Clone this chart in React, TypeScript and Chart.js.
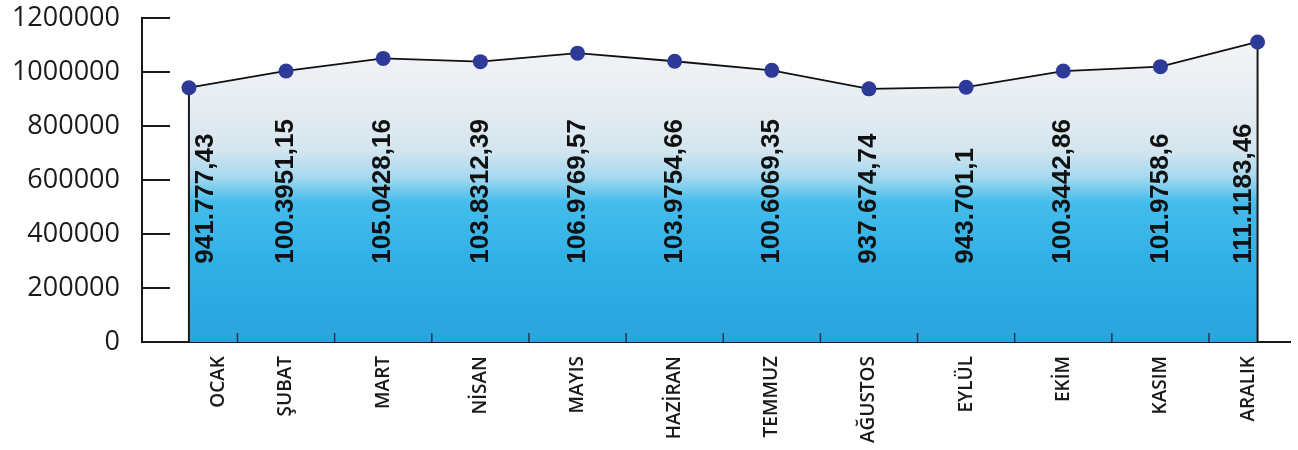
import React, { useEffect, useRef } from "react";
import { Chart, registerables } from "chart.js";

Chart.register(...registerables);

const months = ["OCAK", "ŞUBAT", "MART", "NİSAN", "MAYIS", "HAZİRAN", "TEMMUZ", "AĞUSTOS", "EYLÜL", "EKİM", "KASIM", "ARALIK"];
const values = [941777.43, 1003951.15, 1050428.16, 1038312.39, 1069769.57, 1039754.66, 1006069.35, 937674.74, 943701.1, 1003442.86, 1019758.6, 1111183.46];
const valueLabels = ["941.777,43", "100.3951,15", "105.0428,16", "103.8312,39", "106.9769,57", "103.9754,66", "100.6069,35", "937.674,74", "943.701,1", "100.3442,86", "101.9758,6", "111.1183,46"];
const yMax = 1200000;
const yStep = 200000;

const decor = {
  id: "decor",
  afterDatasetsDraw(chart: any) {
    const { ctx, chartArea, scales } = chart;
    const xs = scales.x;
    const ys = scales.y;
    const n = values.length;
    ctx.save();
    ctx.strokeStyle = "#1a1a1a";
    ctx.lineWidth = 2;
    // vertical edge lines of the filled area
    [0, n - 1].forEach((i) => {
      const px = xs.getPixelForValue(i);
      ctx.beginPath();
      ctx.moveTo(px, ys.getPixelForValue(values[i]) + 7);
      ctx.lineTo(px, chartArea.bottom);
      ctx.stroke();
    });
    // inner y tick marks
    for (let v = 0; v <= yMax; v += yStep) {
      const py = ys.getPixelForValue(v);
      ctx.beginPath();
      ctx.moveTo(chartArea.left, py);
      ctx.lineTo(chartArea.left + 28, py);
      ctx.stroke();
    }
    // x tick marks between months
    ctx.strokeStyle = "#2a3550";
    ctx.lineWidth = 1.5;
    for (let i = 0; i < n - 1; i++) {
      const px = xs.getPixelForValue(i + 0.5);
      ctx.beginPath();
      ctx.moveTo(px, chartArea.bottom - 9);
      ctx.lineTo(px, chartArea.bottom);
      ctx.stroke();
    }
    const firstPx = xs.getPixelForValue(0);
    const lastPx = xs.getPixelForValue(n - 1);
    // value labels
    ctx.fillStyle = "#111";
    ctx.font = "bold 26px 'Liberation Sans'";
    ctx.textAlign = "left";
    ctx.textBaseline = "middle";
    const baseY = ys.getPixelForValue(290000);
    for (let i = 0; i < n; i++) {
      let px = xs.getPixelForValue(i);
      px = Math.min(Math.max(px, firstPx + 17), lastPx - 14);
      ctx.save();
      ctx.translate(px, baseY);
      ctx.rotate(-Math.PI / 2);
      ctx.fillText(valueLabels[i], 0, 0);
      ctx.restore();
    }
    // month labels
    ctx.fillStyle = "#1a1a1a";
    ctx.font = "600 19px 'Open Sans'";
    ctx.textAlign = "right";
    for (let i = 0; i < n; i++) {
      let px = xs.getPixelForValue(i);
      px = Math.min(Math.max(px, firstPx + 30), lastPx - 9);
      ctx.save();
      ctx.translate(px, chartArea.bottom + 14);
      ctx.rotate(-Math.PI / 2);
      ctx.fillText(months[i], 0, 0);
      ctx.restore();
    }
    ctx.restore();
  },
};

export default function App() {
  const ref = useRef<HTMLCanvasElement | null>(null);
  useEffect(() => {
    if (!ref.current) return;
    const chart = new Chart(ref.current, {
      type: "line",
      data: {
        datasets: [
          {
            data: values.map((v, i) => ({ x: i, y: v })),
            borderColor: "#111",
            borderWidth: 1.8,
            tension: 0,
            pointRadius: 7.5,
            pointHoverRadius: 7.5,
            pointBackgroundColor: "#2e3a98",
            pointBorderColor: "#2e3a98",
            pointBorderWidth: 0,
            fill: "origin",
            backgroundColor: (c: any) => {
              const { chart } = c;
              const area = chart.chartArea;
              if (!area) return "#2fb0e6";
              const g = chart.ctx.createLinearGradient(0, area.top, 0, area.bottom);
              g.addColorStop(0, "#fbfcfd");
              g.addColorStop(0.1, "#f1f3f6");
              g.addColorStop(0.28, "#e5ecf1");
              g.addColorStop(0.41, "#d3e5ef");
              g.addColorStop(0.49, "#a6d9ef");
              g.addColorStop(0.57, "#44bcec");
              g.addColorStop(0.75, "#31b0e6");
              g.addColorStop(1, "#29a4dd");
              return g;
            },
          },
        ],
      },
      options: {
        animation: false,
        responsive: true,
        maintainAspectRatio: false,
        layout: { padding: { top: 0, right: 6, left: 0, bottom: 0 } },
        plugins: {
          legend: { display: false },
          tooltip: { enabled: false },
        },
        scales: {
          x: {
            type: "linear",
            min: -0.483,
            max: 11.339,
            grid: { display: false, drawTicks: false },
            ticks: { display: false },
            border: { display: true, color: "#1a1a1a", width: 2 },
            afterFit: (s: any) => {
              s.height = 108;
            },
          },
          y: {
            min: 0,
            max: yMax,
            ticks: {
              stepSize: yStep,
              padding: 22,
              color: "#1a1a1a",
              font: { family: "'Open Sans'", size: 27 },
              callback: (v: any) => String(v),
            },
            grid: { display: false, drawTicks: false },
            border: { display: true, color: "#1a1a1a", width: 2 },
            afterFit: (s: any) => {
              s.width = 142;
              s.paddingTop = 18;
              s.paddingBottom = 0;
            },
          },
        },
      },
      plugins: [decor],
    });
    return () => chart.destroy();
  }, []);
  return (
    <div style={{ position: "fixed", left: 0, top: 0, width: 1298, height: 450, background: "#fff" }}>
      <canvas ref={ref} />
    </div>
  );
}
